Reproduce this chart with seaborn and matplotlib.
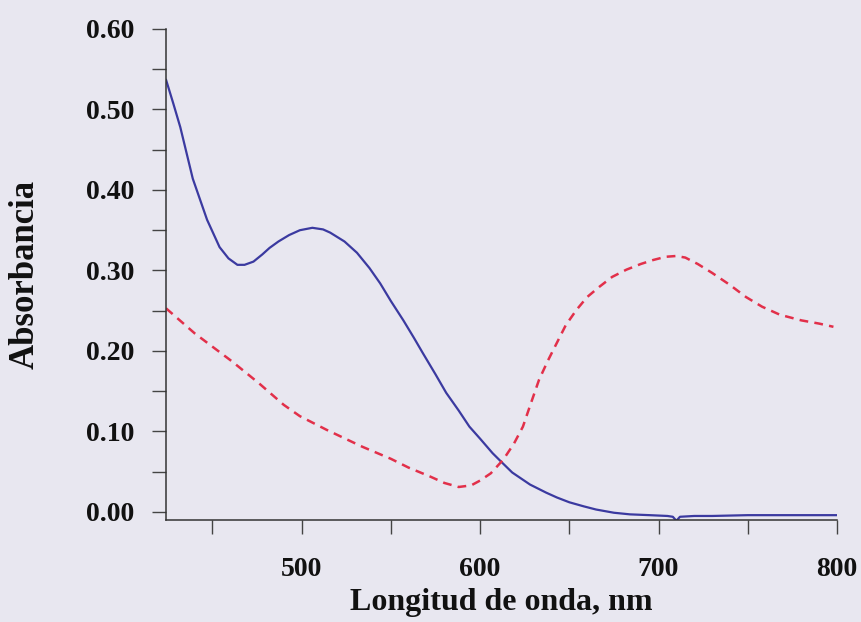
import numpy as np
import pandas as pd
import matplotlib
matplotlib.use('Agg')
import matplotlib.pyplot as plt
import seaborn as sns
from matplotlib.ticker import MultipleLocator, FormatStrFormatter

# Spectre bleu (trait plein)
wl_blue = [424, 428, 432, 439, 447, 454, 459, 464, 468, 473, 478, 482, 487, 493,
           499, 506, 512, 516, 524, 531, 538, 544, 550, 557, 563, 568, 575, 581,
           588, 594, 600, 607, 612, 618, 628, 637, 643, 650, 658, 665, 675, 684,
           695, 705, 708, 710, 712, 720, 730, 750, 775, 800]
abs_blue = [0.537, 0.508, 0.478, 0.414, 0.363, 0.329, 0.315, 0.307, 0.307, 0.311,
            0.320, 0.328, 0.336, 0.344, 0.350, 0.353, 0.351, 0.347, 0.336, 0.322,
            0.303, 0.284, 0.262, 0.238, 0.216, 0.197, 0.171, 0.148, 0.126, 0.106,
            0.091, 0.073, 0.062, 0.049, 0.034, 0.024, 0.018, 0.012, 0.007, 0.003,
            -0.001, -0.003, -0.004, -0.005, -0.006, -0.011, -0.006, -0.005, -0.005,
            -0.004, -0.004, -0.004]

# Spectre rouge (tirets)
wl_red = [424, 440, 461, 476, 490, 499, 514, 534, 550, 560, 572, 580, 588, 595,
          600, 606, 613, 619, 624, 628, 633, 638, 643, 648, 654, 660, 667, 674,
          682, 690, 697, 704, 710, 715, 722, 730, 740, 749, 758, 768, 780, 790, 798]
abs_red = [0.253, 0.222, 0.187, 0.160, 0.133, 0.119, 0.102, 0.081, 0.066, 0.055,
           0.044, 0.036, 0.031, 0.033, 0.039, 0.048, 0.065, 0.085, 0.106, 0.132,
           0.164, 0.188, 0.210, 0.232, 0.251, 0.267, 0.280, 0.292, 0.301, 0.308,
           0.313, 0.317, 0.318, 0.316, 0.308, 0.297, 0.282, 0.267, 0.255, 0.245,
           0.238, 0.234, 0.230]

sns.set_theme(style='ticks')
plt.rcParams['font.family'] = ['Liberation Serif', 'DejaVu Serif']
plt.rcParams['font.weight'] = 'bold'

bg = '#e8e7f0'
fig = plt.figure(figsize=(8.62, 6.22), dpi=100, facecolor=bg)
ax = fig.add_axes([0.1926, 0.164, 0.7784, 0.7894])
ax.set_facecolor(bg)

df_blue = pd.DataFrame({'x': wl_blue, 'y': abs_blue})
df_red = pd.DataFrame({'x': wl_red, 'y': abs_red})

sns.lineplot(data=df_blue, x='x', y='y', ax=ax, color='#3b3aa0', lw=1.6)
sns.lineplot(data=df_red, x='x', y='y', ax=ax, color='#e2304a', lw=1.8,
             linestyle=(0, (3.5, 2.5)))

ax.set_xlim(424, 800)
ax.set_ylim(-0.01, 0.60)

ax.xaxis.set_major_locator(MultipleLocator(100))
ax.xaxis.set_minor_locator(MultipleLocator(50))
ax.yaxis.set_major_locator(MultipleLocator(0.1))
ax.yaxis.set_minor_locator(MultipleLocator(0.05))
ax.yaxis.set_major_formatter(FormatStrFormatter('%.2f'))

for s in ['top', 'right']:
    ax.spines[s].set_visible(False)
for s in ['left', 'bottom']:
    ax.spines[s].set_color('#333333')
    ax.spines[s].set_linewidth(1.1)

ax.tick_params(axis='both', which='both', direction='out', length=10,
               width=1, color='#444444')
ax.tick_params(axis='x', which='major', pad=17, labelsize=20)
ax.tick_params(axis='y', which='major', pad=13, labelsize=20)
for lab in ax.get_xticklabels() + ax.get_yticklabels():
    lab.set_fontweight('bold')
    lab.set_color('#111111')

ax.set_xlabel('Longitud de onda, nm', fontsize=23, fontweight='bold', color='#111111')
ax.set_ylabel('Absorbancia', fontsize=25, fontweight='bold', color='#111111')
ax.xaxis.set_label_coords(0.5, -0.138)
ax.yaxis.set_label_coords(-0.185, 0.5)

plt.savefig('out.png', dpi=100, facecolor=bg)
